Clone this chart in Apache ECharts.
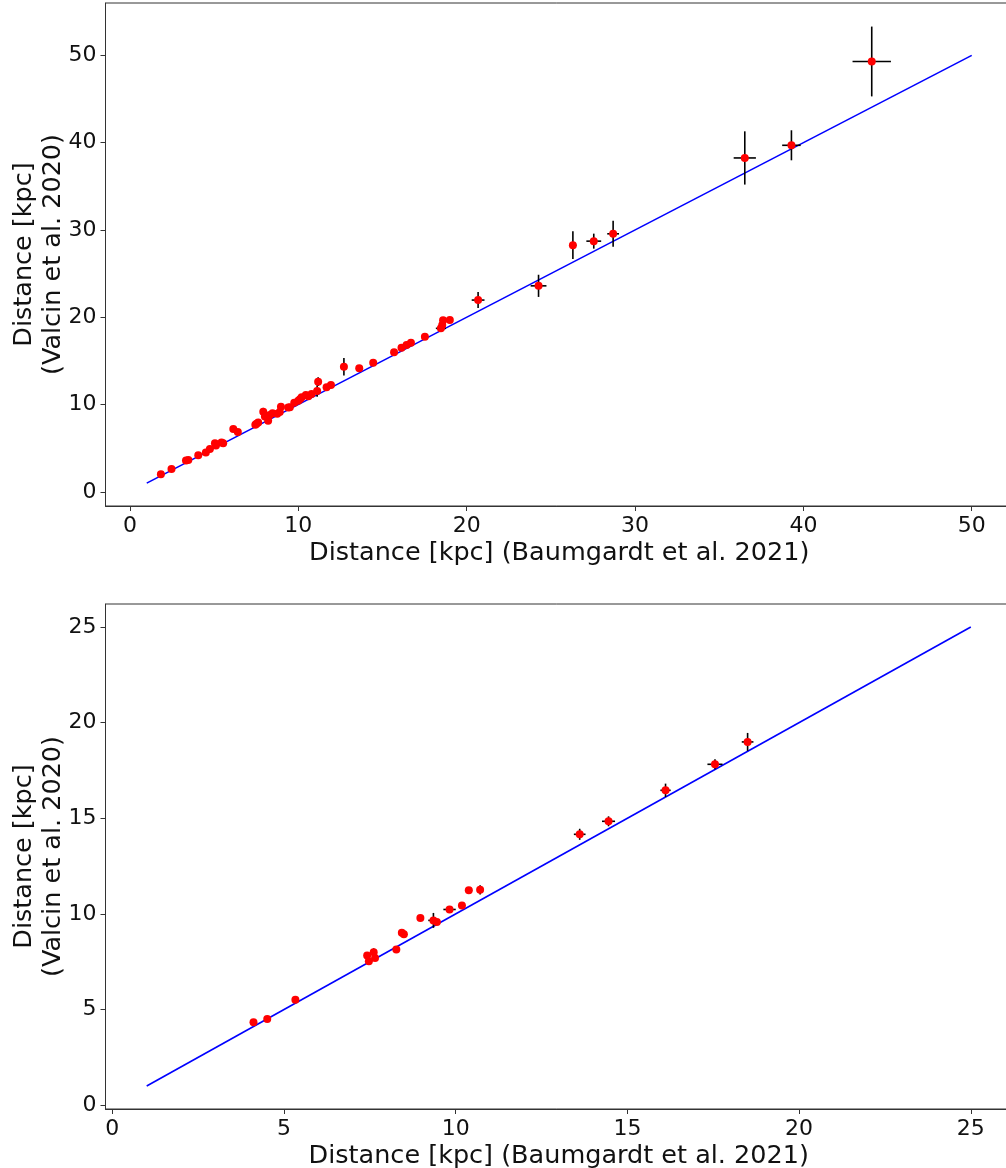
<!DOCTYPE html>
<html>
<head>
<meta charset="utf-8">
<script src="https://cdn.jsdelivr.net/npm/echarts@6/dist/echarts.min.js"></script>
<style>
  html, body { margin: 0; padding: 0; background: #fff; }
  #chart { width: 1006px; height: 1168px; }
</style>
</head>
<body>
<div id="chart"></div>
<script>
// Upper panel: full cluster sample, distances in kpc
const topX = [1.84, 2.47, 3.33, 3.47, 4.06, 4.51, 4.75, 5.05, 5.11, 5.44, 5.54, 6.14, 6.41,
  7.45, 7.52, 7.62, 7.92, 8.02, 8.21, 8.31, 8.47, 8.75, 8.97, 8.90, 9.40, 9.50, 9.76, 10.00,
  10.10, 10.20, 10.45, 10.79, 10.60, 11.12, 11.18, 11.68, 11.94, 12.71, 13.62, 14.45, 15.69,
  16.13, 16.43, 16.69, 17.52, 18.47, 18.55, 18.60, 19.00, 20.68, 24.27, 26.31, 27.55, 28.70,
  36.52, 39.29, 44.06];
const topY = [2.02, 2.63, 3.58, 3.66, 4.19, 4.50, 4.92, 5.57, 5.30, 5.64, 5.57, 7.19, 6.85,
  7.70, 7.80, 7.95, 9.17, 8.62, 8.15, 8.81, 9.00, 8.95, 9.76, 9.15, 9.65, 9.70, 10.22, 10.45,
  10.60, 10.83, 11.10, 11.21, 10.95, 11.56, 12.62, 11.98, 12.24, 14.34, 14.15, 14.80, 15.98,
  16.51, 16.82, 17.08, 17.77, 18.73, 19.10, 19.65, 19.70, 21.97, 23.60, 28.26, 28.72, 29.56,
  38.25, 39.70, 49.30];
const topXErr = [0.05, 0.05, 0.05, 0.05, 0.05, 0.05, 0.05, 0.05, 0.05, 0.05, 0.05, 0.05, 0.05,
  0.05, 0.05, 0.05, 0.08, 0.05, 0.05, 0.05, 0.05, 0.05, 0.05, 0.05, 0.05, 0.05, 0.05, 0.05,
  0.05, 0.05, 0.05, 0.05, 0.05, 0.08, 0.08, 0.05, 0.05, 0.08, 0.10, 0.10, 0.10,
  0.10, 0.10, 0.10, 0.10, 0.30, 0.10, 0.10, 0.10, 0.38, 0.47, 0.20, 0.44, 0.35,
  0.66, 0.55, 1.14];
const topYErr = [0.05, 0.05, 0.05, 0.05, 0.05, 0.05, 0.05, 0.05, 0.05, 0.05, 0.05, 0.10, 0.05,
  0.05, 0.05, 0.40, 0.45, 0.10, 0.05, 0.05, 0.05, 0.05, 0.10, 0.05, 0.05, 0.05, 0.05, 0.05,
  0.05, 0.05, 0.05, 0.05, 0.05, 0.66, 0.50, 0.05, 0.05, 1.00, 0.10, 0.10, 0.10,
  0.10, 0.10, 0.30, 0.10, 0.20, 0.20, 0.20, 0.10, 0.92, 1.27, 1.58, 0.86, 1.49,
  3.05, 1.72, 4.00];

// Lower panel: restricted sample
const botX = [4.11, 4.51, 5.33, 7.42, 7.47, 7.61, 7.65, 8.27, 8.43, 8.49, 8.97, 9.35, 9.45,
  9.82, 10.18, 10.38, 10.71, 13.61, 14.45, 16.11, 17.55, 18.50];
const botY = [4.34, 4.51, 5.51, 7.83, 7.53, 8.00, 7.70, 8.14, 9.01, 8.93, 9.78, 9.66, 9.57,
  10.23, 10.44, 11.23, 11.26, 14.16, 14.84, 16.46, 17.82, 18.99];
const botXErr = [0.05, 0.05, 0.05, 0.05, 0.05, 0.05, 0.05, 0.05, 0.05, 0.05, 0.05, 0.15, 0.05,
  0.18, 0.05, 0.10, 0.05, 0.17, 0.19, 0.15, 0.22, 0.17];
const botYErr = [0.05, 0.05, 0.05, 0.05, 0.05, 0.20, 0.05, 0.05, 0.05, 0.05, 0.05, 0.39, 0.05,
  0.10, 0.05, 0.05, 0.24, 0.29, 0.26, 0.35, 0.26, 0.47];

// One-to-one reference lines
const topLineX = [1, 50];
const botLineX = [1, 25];

// Tick values
const topTicks = [0, 10, 20, 30, 40, 50];
const botTicks = [0, 5, 10, 15, 20, 25];

const xTitle = 'Distance [kpc] (Baumgardt et al. 2021)';
const yTitle = 'Distance [kpc]\n(Valcin et al. 2020)';

const FONT = 'DejaVu Sans';
const INK = '#111';

function rows(xs, ys, xe, ye) {
  return xs.map((x, i) => [x, ys[i], xe[i], ye[i]]);
}

function errRender(params, api) {
  const x = api.value(0), y = api.value(1);
  const xe = api.value(2), ye = api.value(3);
  const h0 = api.coord([x - xe, y]), h1 = api.coord([x + xe, y]);
  const v0 = api.coord([x, y - ye]), v1 = api.coord([x, y + ye]);
  const style = { stroke: '#000', lineWidth: 1.6 };
  return {
    type: 'group',
    children: [
      { type: 'line', shape: { x1: h0[0], y1: h0[1], x2: h1[0], y2: h1[1] }, style },
      { type: 'line', shape: { x1: v0[0], y1: v0[1], x2: v1[0], y2: v1[1] }, style }
    ]
  };
}

function valueAxis(min, max, ticks, title, isY) {
  const ax = {
    type: 'value',
    min, max,
    splitLine: { show: false },
    axisLine: { show: true, onZero: false, lineStyle: { color: '#333', width: 1 } },
    axisTick: { show: true, length: 5, customValues: ticks, lineStyle: { color: '#333', width: 1 } },
    axisLabel: { customValues: ticks, color: INK, fontSize: 22, fontFamily: FONT, margin: 9 },
    name: title,
    nameLocation: 'middle',
    nameMoveOverlap: false,
    nameTextStyle: { color: INK, fontSize: 25.5, fontFamily: FONT, lineHeight: 29 }
  };
  if (isY) {
    ax.nameRotate = 90;
    ax.nameGap = 38;
  } else {
    ax.nameGap = 33;
  }
  return ax;
}

const chart = echarts.init(document.getElementById('chart'), null, { renderer: 'canvas' });

const gridBase = { left: 105.5, show: true, borderColor: '#333', borderWidth: 1, containLabel: false, outerBoundsMode: 'none' };

chart.setOption({
  backgroundColor: '#fff',
  animation: false,
  grid: [
    Object.assign({ right: -7, top: 3, bottom: 662 }, gridBase),
    Object.assign({ right: -6, top: 604, bottom: 59 }, gridBase)
  ],
  xAxis: [
    Object.assign(valueAxis(-1.45, 52.45, topTicks, xTitle, false), { gridIndex: 0 }),
    Object.assign(valueAxis(-0.2, 26.2, botTicks, xTitle, false), { gridIndex: 1 })
  ],
  yAxis: [
    Object.assign(valueAxis(-1.62, 56.0, topTicks, yTitle, true), { gridIndex: 0 }),
    Object.assign(valueAxis(-0.2, 26.2, botTicks, yTitle, true), { gridIndex: 1 })
  ],
  series: [
    {
      type: 'line', xAxisIndex: 0, yAxisIndex: 0, z: 1,
      data: topLineX.map(v => [v, v]), symbol: 'none',
      lineStyle: { color: '#0000ff', width: 1.6 }
    },
    {
      type: 'custom', xAxisIndex: 0, yAxisIndex: 0, z: 2,
      data: rows(topX, topY, topXErr, topYErr), renderItem: errRender
    },
    {
      type: 'scatter', xAxisIndex: 0, yAxisIndex: 0, z: 3,
      data: topX.map((x, i) => [x, topY[i]]), symbol: 'circle', symbolSize: 8,
      itemStyle: { color: '#ff0000', opacity: 1 }
    },
    {
      type: 'line', xAxisIndex: 1, yAxisIndex: 1, z: 1,
      data: botLineX.map(v => [v, v]), symbol: 'none',
      lineStyle: { color: '#0000ff', width: 1.6 }
    },
    {
      type: 'custom', xAxisIndex: 1, yAxisIndex: 1, z: 2,
      data: rows(botX, botY, botXErr, botYErr), renderItem: errRender
    },
    {
      type: 'scatter', xAxisIndex: 1, yAxisIndex: 1, z: 3,
      data: botX.map((x, i) => [x, botY[i]]), symbol: 'circle', symbolSize: 8,
      itemStyle: { color: '#ff0000', opacity: 1 }
    }
  ]
});
</script>
</body>
</html>
